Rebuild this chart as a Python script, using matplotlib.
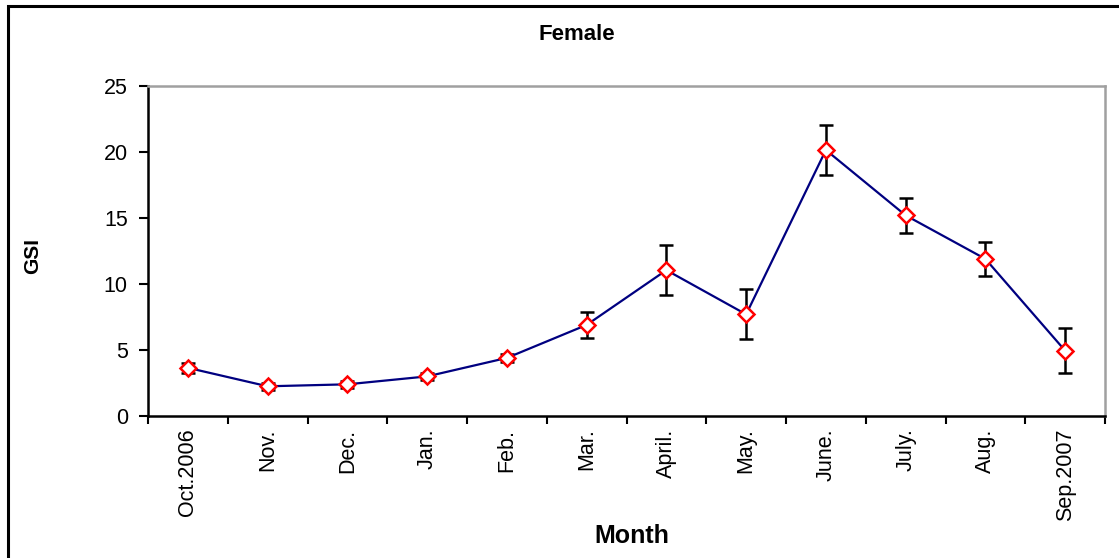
import matplotlib
matplotlib.use("Agg")
import matplotlib.pyplot as plt
from matplotlib.patches import Rectangle

plt.rcParams['font.family'] = ['Liberation Sans', 'DejaVu Sans']

months = ['Oct.2006', 'Nov.', 'Dec.', 'Jan.', 'Feb.', 'Mar.', 'April.', 'May.',
          'June.', 'July.', 'Aug.', 'Sep.2007']
gsi = [3.65, 2.25, 2.4, 3.0, 4.4, 6.9, 11.05, 7.7, 20.15, 15.2, 11.9, 4.95]
gsi_err = [0.4, 0.25, 0.25, 0.25, 0.3, 1.0, 1.9, 1.9, 1.9, 1.3, 1.3, 1.7]

fig = plt.figure(figsize=(11.19, 5.58), dpi=100)
ax = fig.add_axes([148 / 1119, 1 - 416 / 558, (1105 - 148) / 1119, (416 - 86) / 558])

x = range(len(months))
ax.errorbar(x, gsi, yerr=gsi_err, fmt='none', ecolor='black', elinewidth=1.8,
            capsize=5, capthick=1.8, zorder=2)
ax.plot(x, gsi, color='#000080', lw=1.6, zorder=3)
ax.plot(x, gsi, ls='none', marker='D', ms=8, mfc='white', mec='red', mew=1.8, zorder=4)

ax.set_xlim(-0.5, len(months) - 0.5)
ax.set_ylim(0, 25)
ax.set_yticks([0, 5, 10, 15, 20, 25])
ax.set_xticks(x)
ax.set_xticklabels(months, rotation=90)
ax.set_xticks([i - 0.5 for i in range(len(months) + 1)], minor=True)
ax.tick_params(axis='x', which='major', length=0, labelsize=15.5, pad=9)
ax.tick_params(axis='x', which='minor', length=6, width=1.5, direction='out')
ax.tick_params(axis='y', labelsize=15.5, length=6.5, width=1.5, direction='out', pad=8)

for side in ['left', 'bottom']:
    ax.spines[side].set_linewidth(1.8)
    ax.spines[side].set_color('black')
for side in ['top', 'right']:
    ax.spines[side].set_linewidth(1.8)
    ax.spines[side].set_color('#a0a0a0')

fig.text(577 / 1119, 1 - 35 / 558, 'Female', ha='center', va='center',
         fontsize=16, fontweight='bold')
fig.text(33 / 1119, 1 - 256 / 558, 'GSI', ha='center', va='center', rotation=90,
         fontsize=15, fontweight='bold')
fig.text(632 / 1119, 1 - 536 / 558, 'Month', ha='center', va='center',
         fontsize=18, fontweight='bold')

# outer frame, cut off at right and bottom like the original
fig.patches.append(Rectangle((8 / 1119, -0.1), 1.2, 1 - 6 / 558 + 0.1, transform=fig.transFigure,
                             fill=False, edgecolor='black', lw=2.2))

fig.savefig('out.png', dpi=100)
